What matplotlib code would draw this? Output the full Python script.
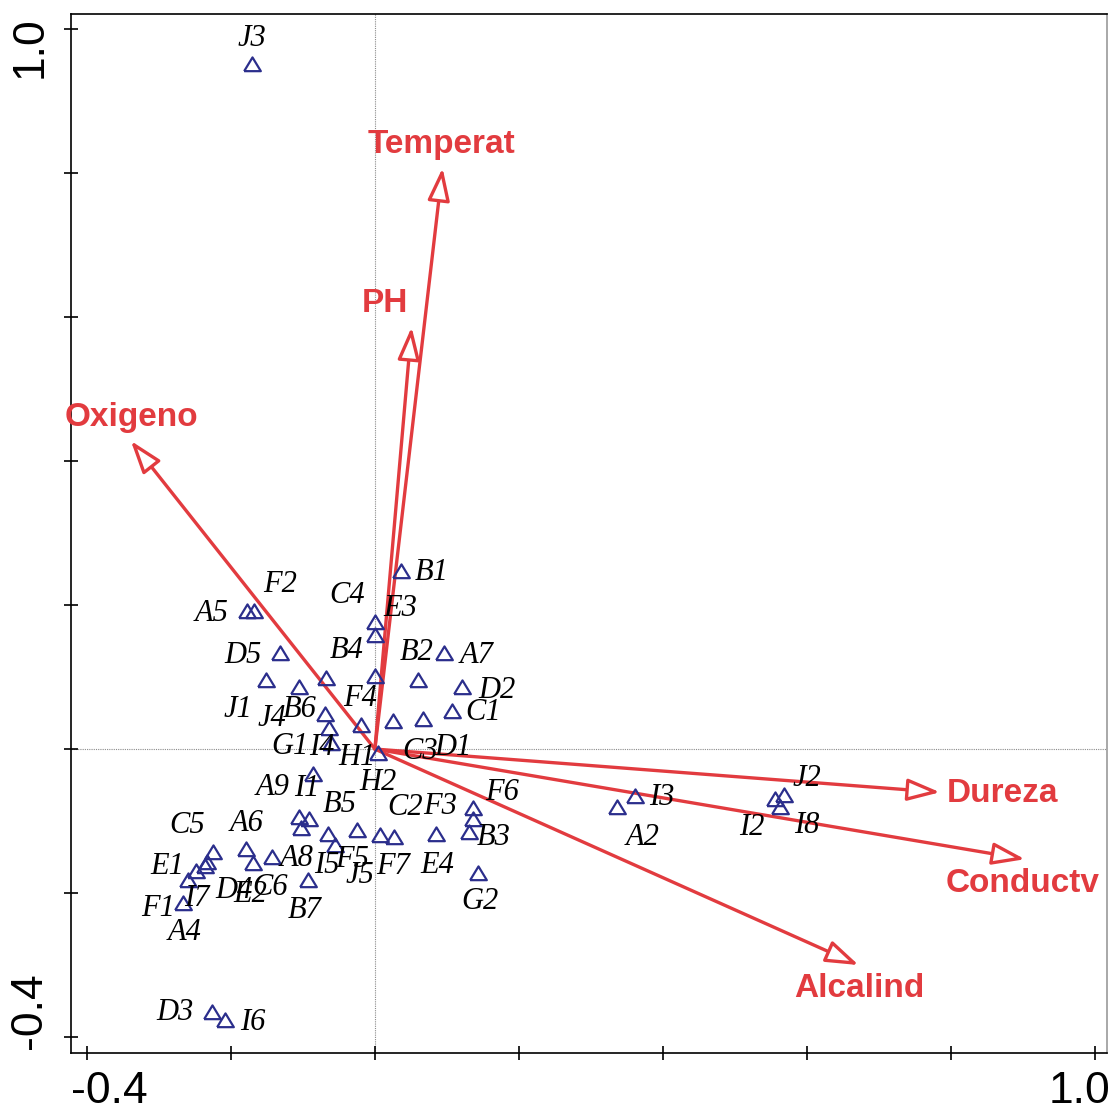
import matplotlib
matplotlib.use("Agg")
import matplotlib.pyplot as plt
from matplotlib.transforms import ScaledTranslation

# site scores (axis 1, axis 2)
sites = ["J3", "B1", "A5", "F2", "C4", "E3", "D5", "A7", "J1", "J4", "B6", "B4", "B2",
         "D2", "C1", "D1", "C3", "F4", "G1", "I4", "H2", "H1", "I1", "A9", "B5", "I5",
         "F5", "J5", "F7", "C2", "E4", "F6", "F3", "B3", "G2", "C5", "D4", "I7", "E1",
         "F1", "A4", "A6", "E2", "C6", "A8", "B7", "I3", "A2", "J2", "I2", "I8", "D3", "I6"]
site_x = [-0.171, 0.036, -0.178, -0.168, 0.000, 0.000, -0.132, 0.096, -0.151, -0.106,
          -0.068, 0.000, 0.060, 0.121, 0.107, 0.067, 0.025, -0.019, -0.069, -0.064,
          -0.061, 0.004, -0.086, -0.106, -0.092, -0.065, -0.056, -0.025, 0.007, 0.026,
          0.085, 0.136, 0.136, 0.131, 0.143, -0.225, -0.233, -0.236, -0.249, -0.260,
          -0.267, -0.179, -0.169, -0.143, -0.103, -0.093, 0.361, 0.336, 0.568, 0.556,
          0.563, -0.226, -0.208]
site_y = [0.951, 0.247, 0.192, 0.192, 0.176, 0.158, 0.133, 0.133, 0.096, 0.086,
          0.099, 0.101, 0.096, 0.086, 0.053, 0.042, 0.039, 0.033, 0.049, 0.029,
          0.008, -0.006, -0.035, -0.094, -0.097, -0.118, -0.133, -0.113, -0.119, -0.122,
          -0.118, -0.082, -0.097, -0.115, -0.172, -0.143, -0.157, -0.163, -0.169, -0.182,
          -0.214, -0.139, -0.158, -0.150, -0.110, -0.182, -0.065, -0.081, -0.064, -0.069,
          -0.081, -0.365, -0.376]

# environmental variables (arrow tips)
env = ["Temperat", "PH", "Oxigeno", "Dureza", "Conductv", "Alcalind"]
env_x = [0.094, 0.051, -0.339, 0.785, 0.903, 0.672]
env_y = [0.807, 0.586, 0.428, -0.060, -0.153, -0.300]

# label placement (pixels from the point)
site_off = [(0, 26), (31, -1), (-35, -3), (26, 26), (-28, 27), (25, 27), (-37, -2),
            (33, -2), (-28, -30), (-27, -31), (-26, -32), (-28, 26), (-1, 27), (35, -3),
            (31, -2), (30, -29), (27, -31), (-1, 27), (-35, -33), (-7, -19), (47, -39),
            (-21, -4), (-6, -14), (-26, 29), (31, 14), (-1, -31), (18, -15), (3, -45),
            (13, -32), (11, 29), (1, -31), (29, 16), (-33, 12), (24, -6), (2, -29),
            (-26, 27), (27, -28), (-8, -32), (-28, 4), (-30, -28), (2, -29), (1, 26),
            (-3, -32), (-2, -30), (-4, -30), (-3, -30), (27, -2), (26, -30), (23, 17),
            (-23, -29), (27, -18), (-37, -1), (28, -3)]
env_off = [(-1, 23), (-27, 24), (1, 23), (63, -1), (-2, -24), (1, -23)]

RED = "#E23B3F"
BLUE = "#2B2E8C"

fig = plt.figure(figsize=(11.09, 11.12), dpi=100)
ax = fig.add_axes([0.064, 0.053, 0.934, 0.9344])
ax.set_xlim(-0.4222, 1.0167)
ax.set_ylim(-0.4222, 1.0208)

ax.axvline(0, color="#8a8a8a", lw=0.8, ls=(0, (1, 1)), zorder=0)
ax.axhline(0, color="#8a8a8a", lw=0.8, ls=(0, (1, 1)), zorder=0)

tri = [(-1, -0.8), (1, -0.8), (0, 0.85), (-1, -0.8)]
ax.plot(site_x, site_y, ls="none", marker=tri, ms=12, mfc="none", mec=BLUE, mew=1.6, zorder=3)
for name, x, y, (dx, dy) in zip(sites, site_x, site_y, site_off):
    ax.annotate(name, (x, y), xytext=(dx, dy), textcoords="offset pixels",
                ha="center", va="center", fontsize=22, style="italic",
                family="Liberation Serif", color="black", zorder=4)

for name, x, y, (dx, dy) in zip(env, env_x, env_y, env_off):
    ax.annotate("", xy=(x, y), xytext=(0, 0),
                arrowprops=dict(arrowstyle="-|>,head_length=1.0,head_width=0.34",
                                mutation_scale=20, lw=2.4, ec=RED, fc="white",
                                shrinkA=0, shrinkB=0), zorder=2)
    ax.annotate(name, (x, y), xytext=(dx, dy), textcoords="offset pixels",
                ha="center", va="center", fontsize=24, fontweight="bold",
                family="Liberation Sans", color=RED, zorder=4)

ticks = [-0.4, -0.2, 0.0, 0.2, 0.4, 0.6, 0.8, 1.0]
labels = ["-0.4", "", "", "", "", "", "", "1.0"]
ax.set_xticks(ticks)
ax.set_xticklabels(labels)
ax.set_yticks(ticks)
ax.set_yticklabels(labels, rotation=90, va="center")
ax.tick_params(direction="inout", length=10, width=1.2, labelsize=32, color="black")
ax.tick_params(axis="x", pad=8)
ax.tick_params(axis="y", pad=10)
for lab in ax.get_xticklabels() + ax.get_yticklabels():
    lab.set_family("Liberation Sans")

xl = ax.get_xticklabels()
xl[0].set_transform(xl[0].get_transform() + ScaledTranslation(22 / 100, 0, fig.dpi_scale_trans))
xl[-1].set_transform(xl[-1].get_transform() + ScaledTranslation(-15 / 100, 0, fig.dpi_scale_trans))
yl = ax.get_yticklabels()
yl[0].set_transform(yl[0].get_transform() + ScaledTranslation(0, 26 / 100, fig.dpi_scale_trans))
yl[-1].set_transform(yl[-1].get_transform() + ScaledTranslation(0, -18 / 100, fig.dpi_scale_trans))

for sp in ax.spines.values():
    sp.set_linewidth(1.2)
ax.spines["right"].set_color("#999999")

fig.savefig("out.png", dpi=100)
